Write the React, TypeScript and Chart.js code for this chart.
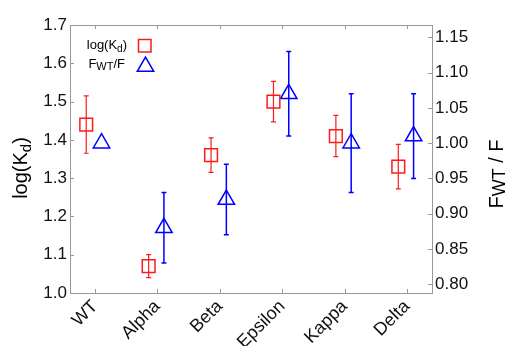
import React, { useEffect, useRef } from 'react';
import { Chart, registerables } from 'chart.js';

Chart.register(...registerables);

const categories = ['WT', 'Alpha', 'Beta', 'Epsilon', 'Kappa', 'Delta'];
const logKd = [1.44, 1.07, 1.36, 1.5, 1.41, 1.33];
const logKdErr = [0.075, 0.03, 0.045, 0.053, 0.054, 0.058];
const fRatio = [1.0, 0.88, 0.92, 1.07, 1.0, 1.01];
const fRatioErr = [0, 0.05, 0.05, 0.06, 0.07, 0.06];
const leftTicks = [1.0, 1.1, 1.2, 1.3, 1.4, 1.5, 1.6, 1.7];
const rightTicks = [0.8, 0.85, 0.9, 0.95, 1.0, 1.05, 1.1, 1.15];

const RED = '#ff1a1a';
const BLUE = '#0000ff';
const FRAME = '#9a9a9a';
const FONT = '"Liberation Sans", Arial, sans-serif';

type Part = { t: string; sub?: boolean };

function drawRich(
  ctx: CanvasRenderingContext2D,
  parts: Part[],
  x: number,
  y: number,
  size: number,
  subSize: number,
  subShift: number,
  align: 'center' | 'right',
  color: string
) {
  const mainFont = `${size}px ${FONT}`;
  const subFont = `${subSize}px ${FONT}`;
  const widths = parts.map((p) => {
    ctx.font = p.sub ? subFont : mainFont;
    return ctx.measureText(p.t).width;
  });
  const total = widths.reduce((a, b) => a + b, 0);
  let cx = align === 'center' ? x - total / 2 : x - total;
  ctx.fillStyle = color;
  ctx.textAlign = 'left';
  ctx.textBaseline = 'alphabetic';
  parts.forEach((p, i) => {
    ctx.font = p.sub ? subFont : mainFont;
    ctx.fillText(p.t, cx, p.sub ? y + subShift : y);
    cx += widths[i];
  });
}

const errorBarPlugin = {
  id: 'errorBars',
  beforeDatasetsDraw(chart: any) {
    const ctx = chart.ctx as CanvasRenderingContext2D;
    chart.data.datasets.forEach((ds: any, di: number) => {
      const meta = chart.getDatasetMeta(di);
      const yScale = chart.scales[meta.yAxisID];
      const errs: number[] = ds.errors || [];
      ctx.save();
      ctx.strokeStyle = ds.borderColor;
      ctx.lineWidth = ds.errWidth || 1.3;
      meta.data.forEach((pt: any, i: number) => {
        const e = errs[i];
        if (!e) return;
        const v = ds.data[i].y;
        const yTop = yScale.getPixelForValue(v + e);
        const yBot = yScale.getPixelForValue(v - e);
        const x = pt.x;
        ctx.beginPath();
        ctx.moveTo(x, yTop);
        ctx.lineTo(x, yBot);
        ctx.moveTo(x - 2.5, yTop);
        ctx.lineTo(x + 2.5, yTop);
        ctx.moveTo(x - 2.5, yBot);
        ctx.lineTo(x + 2.5, yBot);
        ctx.stroke();
      });
      ctx.restore();
    });
  },
};

const framePlugin = {
  id: 'frameAndText',
  afterDraw(chart: any) {
    const ctx = chart.ctx as CanvasRenderingContext2D;
    const a = chart.chartArea;
    const xs = chart.scales.x;
    const yl = chart.scales.y;
    const yr = chart.scales.y2;
    ctx.save();
    ctx.strokeStyle = FRAME;
    ctx.lineWidth = 1;
    ctx.strokeRect(Math.round(a.left) + 0.5, Math.round(a.top) + 0.5, Math.round(a.right - a.left), Math.round(a.bottom - a.top));
    const tl = 4;
    ctx.beginPath();
    categories.forEach((_, i) => {
      const x = Math.round(xs.getPixelForValue(i)) + 0.5;
      ctx.moveTo(x, a.bottom);
      ctx.lineTo(x, a.bottom - tl);
      ctx.moveTo(x, a.top);
      ctx.lineTo(x, a.top + tl);
    });
    leftTicks.forEach((v) => {
      const y = Math.round(yl.getPixelForValue(v)) + 0.5;
      ctx.moveTo(a.left, y);
      ctx.lineTo(a.left + tl, y);
    });
    rightTicks.forEach((v) => {
      const y = Math.round(yr.getPixelForValue(v)) + 0.5;
      ctx.moveTo(a.right, y);
      ctx.lineTo(a.right - tl, y);
    });
    ctx.stroke();
    ctx.restore();

    // axis titles
    ctx.save();
    ctx.translate(27, 168);
    ctx.rotate(-Math.PI / 2);
    drawRich(ctx, [{ t: 'log(K' }, { t: 'd', sub: true }, { t: ')' }], 0, 0, 20, 15, 4, 'center', '#000');
    ctx.restore();

    ctx.save();
    ctx.translate(503, 174);
    ctx.rotate(-Math.PI / 2);
    drawRich(ctx, [{ t: 'F' }, { t: 'WT', sub: true }, { t: ' / F' }], 0, 0, 20, 18, 2, 'center', '#000');
    ctx.restore();

    // legend
    ctx.save();
    drawRich(ctx, [{ t: 'log(K' }, { t: 'd', sub: true }, { t: ')' }], 127, 48.5, 13, 10, 3, 'right', '#000');
    drawRich(ctx, [{ t: 'F' }, { t: 'WT', sub: true }, { t: '/F' }], 125, 67.5, 13, 11, 2, 'right', '#000');
    ctx.lineWidth = 1.5;
    ctx.strokeStyle = RED;
    ctx.strokeRect(138.5, 39.5, 12.5, 12.5);
    ctx.strokeStyle = BLUE;
    const cx = 145.5, cy = 66.5, r = 9.5;
    ctx.beginPath();
    ctx.moveTo(cx, cy - r);
    ctx.lineTo(cx + Math.sin((2 * Math.PI) / 3) * r, cy + r / 2);
    ctx.lineTo(cx - Math.sin((2 * Math.PI) / 3) * r, cy + r / 2);
    ctx.closePath();
    ctx.stroke();
    ctx.restore();
  },
};

export default function App() {
  const ref = useRef<HTMLCanvasElement>(null);
  useEffect(() => {
    document.body.style.margin = '0';
    const canvas = ref.current!;
    const tickFont = { family: FONT, size: 17 };
    const chart = new Chart(canvas, {
      type: 'scatter',
      data: {
        datasets: [
          {
            label: 'log(Kd)',
            data: logKd.map((v, i) => ({ x: i - 0.14, y: v })),
            errors: logKdErr,
            errWidth: 1.2,
            yAxisID: 'y',
            pointStyle: 'rect',
            pointRadius: 9,
            pointHoverRadius: 9,
            borderColor: RED,
            backgroundColor: 'rgba(0,0,0,0)',
            borderWidth: 1.5,
          } as any,
          {
            label: 'FWT/F',
            data: fRatio.map((v, i) => ({ x: i + 0.105, y: v })),
            errors: fRatioErr,
            errWidth: 1.5,
            yAxisID: 'y2',
            pointStyle: 'triangle',
            pointRadius: 9.5,
            pointHoverRadius: 9.5,
            borderColor: BLUE,
            backgroundColor: 'rgba(0,0,0,0)',
            borderWidth: 1.5,
          } as any,
        ],
      },
      options: {
        animation: false,
        responsive: false,
        maintainAspectRatio: false,
        layout: { padding: { top: 25, left: 0, right: 0, bottom: 0 } },
        plugins: { legend: { display: false }, tooltip: { enabled: false } },
        scales: {
          x: {
            type: 'linear',
            min: -0.4,
            max: 5.4,
            grid: { display: false, drawTicks: false },
            border: { display: false },
            afterBuildTicks: (s: any) => {
              s.ticks = categories.map((_, i) => ({ value: i }));
            },
            afterFit: (s: any) => {
              s.height = 53;
            },
            ticks: {
              autoSkip: false,
              minRotation: 45,
              maxRotation: 45,
              padding: 3,
              color: '#111',
              font: { family: FONT, size: 18 },
              callback: (v: any) => categories[v as number] ?? '',
            },
          },
          y: {
            type: 'linear',
            position: 'left',
            min: 1.0,
            max: 1.7,
            grid: { display: false, drawTicks: false },
            border: { display: false },
            afterBuildTicks: (s: any) => {
              s.ticks = leftTicks.map((v) => ({ value: v }));
            },
            afterFit: (s: any) => {
              s.width = 70;
            },
            ticks: {
              padding: 3,
              color: '#111',
              font: tickFont,
              callback: (v: any) => Number(v).toFixed(1),
            },
          },
          y2: {
            type: 'linear',
            position: 'right',
            min: 0.7875,
            max: 1.1675,
            grid: { display: false, drawTicks: false },
            border: { display: false },
            afterBuildTicks: (s: any) => {
              s.ticks = rightTicks.map((v) => ({ value: v }));
            },
            afterFit: (s: any) => {
              s.width = 74;
            },
            ticks: {
              padding: 3,
              color: '#111',
              font: tickFont,
              callback: (v: any) => Number(v).toFixed(2),
            },
          },
        },
      } as any,
      plugins: [errorBarPlugin, framePlugin],
    });
    return () => chart.destroy();
  }, []);
  return (
    <div style={{ width: 506, height: 346, position: 'relative', background: '#fff' }}>
      <canvas ref={ref} width={506} height={346} style={{ display: 'block', width: 506, height: 346 }} />
    </div>
  );
}
